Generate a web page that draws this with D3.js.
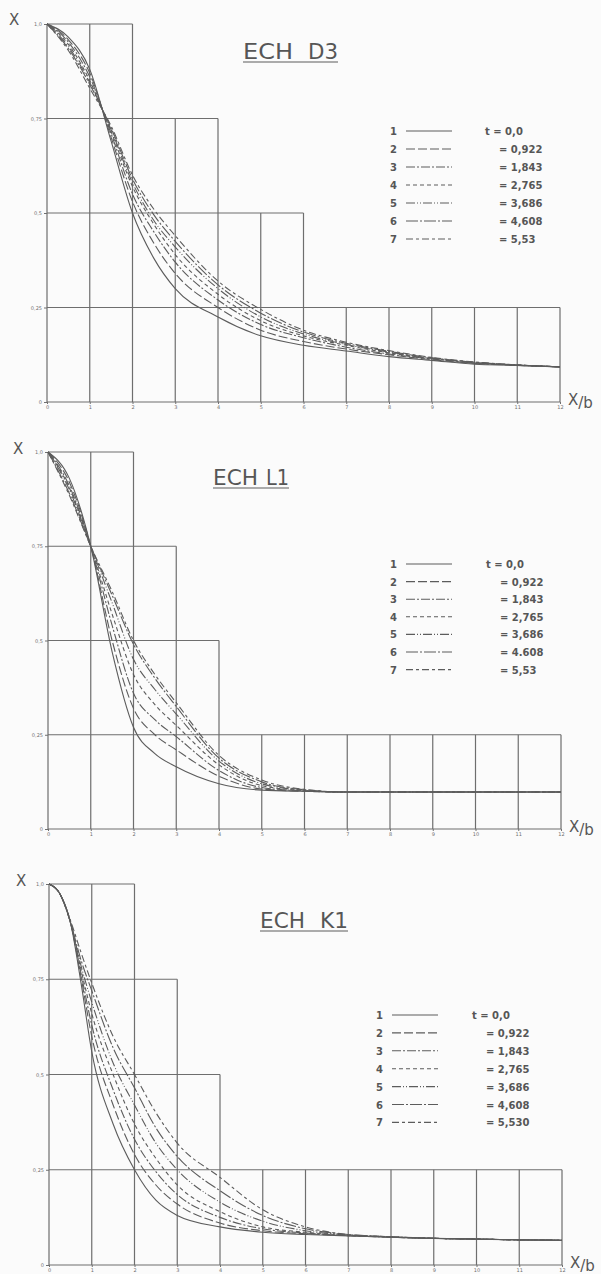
<!DOCTYPE html>
<html>
<head>
<meta charset="utf-8">
<title>ECH D3 / L1 / K1</title>
<script src="https://d3js.org/d3.v7.min.js"></script>
<style>
body {margin:0; background:#fbfbfb;}
svg {display:block;}
text {font-family: "DejaVu Sans", sans-serif; fill:#565656;}
.tick text {font-size:5px; fill:#707070;}
.tick line {stroke:#707070;}
</style>
</head>
<body>
<svg width="601" height="1274"></svg>
<script>
// ---- data ----
var curveNames = ["1", "2", "3", "4", "5", "6", "7"];
var xTicks = [0, 1, 2, 3, 4, 5, 6, 7, 8, 9, 10, 11, 12];
var yTicks = [0, 0.25, 0.5, 0.75, 1];
var yTickLabels = ["0", "0,25", "0,5", "0,75", "1,0"];

// ECH D3
var D3_x = [0, 0.5, 1, 1.5, 2, 2.5, 3, 4, 5, 6, 7, 8, 9, 10, 11, 12];
var D3_1 = [1, 0.965, 0.88, 0.69, 0.50, 0.38, 0.30, 0.225, 0.175, 0.150, 0.135, 0.120, 0.110, 0.100, 0.097, 0.093];
var D3_2 = [1, 0.958, 0.87, 0.70, 0.53, 0.42, 0.34, 0.250, 0.190, 0.160, 0.140, 0.125, 0.112, 0.102, 0.097, 0.093];
var D3_3 = [1, 0.952, 0.86, 0.71, 0.55, 0.45, 0.37, 0.270, 0.205, 0.170, 0.145, 0.127, 0.114, 0.103, 0.097, 0.093];
var D3_4 = [1, 0.946, 0.85, 0.715, 0.57, 0.47, 0.39, 0.285, 0.215, 0.175, 0.150, 0.130, 0.115, 0.104, 0.098, 0.093];
var D3_5 = [1, 0.940, 0.845, 0.72, 0.58, 0.48, 0.41, 0.300, 0.225, 0.180, 0.152, 0.132, 0.116, 0.105, 0.098, 0.093];
var D3_6 = [1, 0.935, 0.84, 0.725, 0.59, 0.495, 0.425, 0.310, 0.235, 0.185, 0.155, 0.134, 0.117, 0.105, 0.098, 0.093];
var D3_7 = [1, 0.930, 0.83, 0.73, 0.60, 0.51, 0.44, 0.320, 0.245, 0.190, 0.158, 0.136, 0.118, 0.106, 0.098, 0.093];
var D3_t = ["0,0", "0,922", "1,843", "2,765", "3,686", "4,608", "5,53"];

// ECH L1
var L1_x = [0, 0.5, 1, 1.5, 2, 2.5, 3, 4, 5, 6, 7, 8, 9, 10, 11, 12];
var L1_1 = [1, 0.930, 0.75, 0.47, 0.27, 0.20, 0.165, 0.120, 0.103, 0.100, 0.098, 0.098, 0.098, 0.098, 0.098, 0.098];
var L1_2 = [1, 0.920, 0.75, 0.50, 0.32, 0.25, 0.210, 0.140, 0.106, 0.100, 0.098, 0.098, 0.098, 0.098, 0.098, 0.098];
var L1_3 = [1, 0.910, 0.75, 0.54, 0.36, 0.29, 0.245, 0.155, 0.110, 0.101, 0.098, 0.098, 0.098, 0.098, 0.098, 0.098];
var L1_4 = [1, 0.905, 0.75, 0.57, 0.41, 0.33, 0.275, 0.170, 0.115, 0.102, 0.098, 0.098, 0.098, 0.098, 0.098, 0.098];
var L1_5 = [1, 0.900, 0.75, 0.60, 0.45, 0.37, 0.305, 0.180, 0.120, 0.103, 0.098, 0.098, 0.098, 0.098, 0.098, 0.098];
var L1_6 = [1, 0.890, 0.75, 0.62, 0.49, 0.40, 0.325, 0.188, 0.125, 0.104, 0.098, 0.098, 0.098, 0.098, 0.098, 0.098];
var L1_7 = [1, 0.885, 0.75, 0.63, 0.50, 0.41, 0.335, 0.195, 0.130, 0.105, 0.098, 0.098, 0.098, 0.098, 0.098, 0.098];
var L1_t = ["0,0", "0,922", "1,843", "2,765", "3,686", "4.608", "5,53"];

// ECH K1
var K1_x = [0, 0.25, 0.5, 0.75, 1, 1.5, 2, 2.5, 3, 4, 5, 6, 7, 8, 9, 10, 11, 12];
var K1_1 = [1, 0.975, 0.90, 0.74, 0.56, 0.37, 0.25, 0.17, 0.13, 0.100, 0.086, 0.080, 0.076, 0.073, 0.070, 0.068, 0.066, 0.065];
var K1_2 = [1, 0.975, 0.90, 0.755, 0.60, 0.42, 0.29, 0.21, 0.16, 0.110, 0.090, 0.082, 0.077, 0.073, 0.070, 0.068, 0.066, 0.065];
var K1_3 = [1, 0.975, 0.90, 0.765, 0.63, 0.46, 0.33, 0.245, 0.185, 0.125, 0.095, 0.084, 0.077, 0.073, 0.070, 0.068, 0.066, 0.065];
var K1_4 = [1, 0.975, 0.90, 0.775, 0.66, 0.50, 0.37, 0.28, 0.21, 0.140, 0.100, 0.086, 0.078, 0.073, 0.070, 0.068, 0.066, 0.065];
var K1_5 = [1, 0.975, 0.90, 0.785, 0.69, 0.53, 0.42, 0.32, 0.25, 0.165, 0.115, 0.090, 0.079, 0.074, 0.070, 0.068, 0.066, 0.065];
var K1_6 = [1, 0.975, 0.90, 0.80, 0.72, 0.57, 0.465, 0.36, 0.285, 0.195, 0.130, 0.095, 0.080, 0.074, 0.070, 0.068, 0.066, 0.065];
var K1_7 = [1, 0.975, 0.905, 0.82, 0.74, 0.60, 0.50, 0.40, 0.32, 0.230, 0.145, 0.100, 0.080, 0.074, 0.070, 0.068, 0.066, 0.065];
var K1_t = ["0,0", "0,922", "1,843", "2,765", "3,686", "4,608", "5,530"];

// ---- drawing ----
var svg = d3.select("svg");
var ink = "#5c5c5c";
var gridInk = "#6e6e6e";
var dashes = ["none", "9,3", "9,2,2,2", "4,3", "9,2,1,2,1,2", "12,2,2,2", "7,3,3,3"];

var panels = [
  {words: ["ECH", "D3"], wordX: [243, 308], wordW: [50, 30], titleY: 59, xs: D3_x,
   series: [D3_1, D3_2, D3_3, D3_4, D3_5, D3_6, D3_7], t: D3_t,
   left: 47, right: 560, top: 24, bottom: 402, steps: [12, 6, 4, 2],
   bigX: [9, 25], legX: 390, legY: 131, legStep: 18, tX: 485},
  {words: ["ECH", "L1"], wordX: [213, 266], wordW: [45, 23], titleY: 485, xs: L1_x,
   series: [L1_1, L1_2, L1_3, L1_4, L1_5, L1_6, L1_7], t: L1_t,
   left: 48, right: 561, top: 452, bottom: 829, steps: [12, 4, 3, 2],
   bigX: [13, 454], legX: 390, legY: 564, legStep: 17.6, tX: 486},
  {words: ["ECH", "K1"], wordX: [260, 320], wordW: [45, 28], titleY: 928, xs: K1_x,
   series: [K1_1, K1_2, K1_3, K1_4, K1_5, K1_6, K1_7], t: K1_t,
   left: 49, right: 562, top: 884, bottom: 1265, steps: [12, 4, 3, 2],
   bigX: [16, 886], legX: 376, legY: 1015, legStep: 17.9, tX: 472}
];

panels.forEach(function(p) {
  var x = d3.scaleLinear().domain([0, 12]).range([p.left, p.right]);
  var y = d3.scaleLinear().domain([0, 1]).range([p.bottom, p.top]);
  var g = svg.append("g");

  // stepped grid: each band between two levels has its own width
  yTicks.forEach(function(v, i) {
    var w = i == 0 ? p.steps[0] : p.steps[i - 1];
    g.append("line")
      .attr("x1", x(0)).attr("x2", x(w))
      .attr("y1", y(v)).attr("y2", y(v))
      .attr("stroke", gridInk).attr("stroke-width", 1.2);
  });
  xTicks.forEach(function(k) {
    var topLevel = 0;
    p.steps.forEach(function(w, i) { if (w >= k) topLevel = yTicks[i + 1]; });
    g.append("line")
      .attr("x1", x(k)).attr("x2", x(k))
      .attr("y1", y(0)).attr("y2", y(topLevel))
      .attr("stroke", gridInk).attr("stroke-width", 1.2);
  });

  // axes (ticks + tiny labels only, grid draws the frame)
  var xAxis = g.append("g")
    .attr("transform", "translate(0," + y(0) + ")")
    .call(d3.axisBottom(x).tickValues(xTicks).tickSize(2).tickPadding(1)
      .tickFormat(function(d) { return d; }));
  xAxis.select(".domain").remove();
  var yAxis = g.append("g")
    .attr("transform", "translate(" + x(0) + ",0)")
    .call(d3.axisLeft(y).tickValues(yTicks).tickSize(3).tickPadding(2)
      .tickFormat(function(d, i) { return yTickLabels[i]; }));
  yAxis.select(".domain").remove();

  // curves
  var line = d3.line()
    .x(function(d) { return x(d[0]); })
    .y(function(d) { return y(d[1]); })
    .curve(d3.curveMonotoneX);
  p.series.forEach(function(s, i) {
    var pts = p.xs.map(function(xv, j) { return [xv, s[j]]; });
    g.append("path")
      .attr("d", line(pts))
      .attr("fill", "none")
      .attr("stroke", ink)
      .attr("stroke-width", 1.1)
      .attr("stroke-dasharray", dashes[i]);
  });

  // axis names
  g.append("text").attr("x", p.bigX[0]).attr("y", p.bigX[1])
    .style("font-size", "15px").text("X");
  var xb = g.append("text").attr("x", x(12) + 8).attr("y", y(0) + 6)
    .style("font-size", "15px");
  xb.append("tspan").attr("dy", -3).text("X");
  xb.append("tspan").attr("dy", 3).text("/b");

  // title, underlined
  p.words.forEach(function(w, i) {
    g.append("text").attr("x", p.wordX[i]).attr("y", p.titleY)
      .attr("textLength", p.wordW[i]).attr("lengthAdjust", "spacingAndGlyphs")
      .style("font-size", "21px").text(w);
  });
  g.append("line")
    .attr("x1", p.wordX[0]).attr("x2", p.wordX[1] + p.wordW[1])
    .attr("y1", p.titleY + 3).attr("y2", p.titleY + 3)
    .attr("stroke", ink).attr("stroke-width", 1.2);

  // legend
  curveNames.forEach(function(name, i) {
    var ly = p.legY + i * p.legStep;
    g.append("text").attr("x", p.legX).attr("y", ly + 4)
      .style("font-size", "10px").style("font-weight", "bold").text(name);
    g.append("line")
      .attr("x1", p.legX + 16).attr("x2", p.legX + 62)
      .attr("y1", ly).attr("y2", ly)
      .attr("stroke", ink).attr("stroke-width", 1.1)
      .attr("stroke-dasharray", dashes[i]);
    g.append("text").attr("x", i == 0 ? p.tX : p.tX + 14).attr("y", ly + 4)
      .style("font-size", "10px").style("font-weight", "bold")
      .text(i == 0 ? "t = " + p.t[i] : "= " + p.t[i]);
  });
});
</script>
</body>
</html>
